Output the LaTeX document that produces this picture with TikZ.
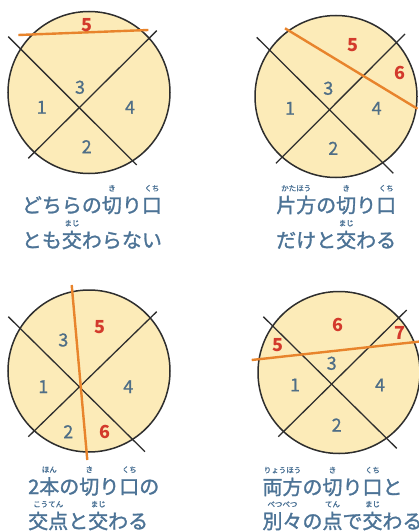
\documentclass[tikz,border=0pt]{standalone}
\usepackage{fontspec}
\newfontfamily\jp{Noto Sans CJK JP}
\newfontfamily\jpcap{Noto Sans CJK JP}[FakeBold=1.4]
\newfontfamily\jpnum{Noto Sans CJK JP}[FakeBold=0.8]
\definecolor{cake}{HTML}{FCEBB8}
\definecolor{cut}{HTML}{2E2E2E}
\definecolor{newcut}{HTML}{E8842C}
\definecolor{numblue}{HTML}{4F6E86}
\definecolor{numred}{HTML}{D33A2C}
\definecolor{captxt}{HTML}{4C7396}
\newcommand\rb[2]{\setbox0\hbox{#1}\rlap{\raisebox{1.08em}[0pt][0pt]{\makebox[\wd0]{\fontsize{7.5}{7.5}\selectfont #2}}}\box0}
\tikzset{
  cakebody/.style={fill=cake,draw=cut,line width=1.5pt},
  knife/.style={draw=cut,line width=1.3pt},
  newknife/.style={draw=newcut,line width=2.4pt},
  piece/.style={font=\jpnum\fontsize{18}{18}\selectfont,text=numblue,inner sep=0pt},
  newpiece/.style={font=\jp\bfseries\fontsize{18}{18}\selectfont,text=numred,inner sep=0pt},
  caption/.style={font=\jpcap\fontsize{20}{20}\selectfont,text=captxt,anchor=base west,inner sep=0pt}
}
\begin{document}
\begin{tikzpicture}[x=1pt,y=-1pt]
\useasboundingbox[fill=white] (0,0) rectangle (418,532);
% ---------- panel 1 ----------
\coordinate (c1) at (89,92.5);
\fill[cake] (c1) circle (81);
\coordinate (a1s) at (8.3,36.7); \coordinate (a1e) at (136.7,165);
\coordinate (b1s) at (156.7,30.7); \coordinate (b1e) at (28.3,158.3);
\draw[knife] (a1s) -- (a1e);
\draw[knife] (b1s) -- (b1e);
\draw[cakebody,fill=none] (c1) circle (81);
\coordinate (o1s) at (18.3,35); \coordinate (o1e) at (148.3,30);
\draw[newknife] (o1s) -- (o1e);
\node[newpiece] (p1n5) at (86.7,25) {5};
\node[piece] (p1n3) at (80,87.3) {3};
\node[piece] (p1n1) at (41.7,107.3) {1};
\node[piece] (p1n4) at (130,107.3) {4};
\node[piece] (p1n2) at (86.7,146.7) {2};
\node[caption] (t1a) at (21.7,212.6) {どちらの\rb{切}{き}り\rb{口}{くち}};
\node[caption] (t1b) at (21.7,247.6) {とも\rb{交}{まじ}わらない};
% ---------- panel 2 ----------
\coordinate (c2) at (336,96.5);
\fill[cake] (c2) circle (81);
\coordinate (a2s) at (256.7,37.3); \coordinate (a2e) at (393.3,173.3);
\coordinate (b2s) at (405,34); \coordinate (b2e) at (276,163.3);
\draw[knife] (a2s) -- (a2e);
\draw[knife] (b2s) -- (b2e);
\draw[cakebody,fill=none] (c2) circle (81);
\coordinate (o2s) at (285,28.3); \coordinate (o2e) at (417.5,108.8);
\draw[newknife] (o2s) -- (o2e);
\node[newpiece] (p2n5) at (353.3,45) {5};
\node[newpiece] (p2n6) at (400,73.3) {6};
\node[piece] (p2n3) at (328.3,88.3) {3};
\node[piece] (p2n1) at (290,108.3) {1};
\node[piece] (p2n4) at (376.7,108.3) {4};
\node[piece] (p2n2) at (333.3,148.3) {2};
\node[caption] (t2a) at (276,212.6) {\rb{片方}{かたほう}の\rb{切}{き}り\rb{口}{くち}};
\node[caption] (t2b) at (276,247.6) {だけと\rb{交}{まじ}わる};
% ---------- panel 3 ----------
\coordinate (c3) at (89,371);
\fill[cake] (c3) circle (81);
\coordinate (a3s) at (8.3,316.7); \coordinate (a3e) at (145,451.7);
\coordinate (b3s) at (156.7,311.7); \coordinate (b3e) at (28.3,436.7);
\draw[knife] (a3s) -- (a3e);
\draw[knife] (b3s) -- (b3e);
\draw[cakebody,fill=none] (c3) circle (81);
\coordinate (o3s) at (71.7,285); \coordinate (o3e) at (87.3,460);
\draw[newknife] (o3s) -- (o3e);
\node[newpiece] (p3n5) at (100,326.7) {5};
\node[newpiece] (p3n6) at (105,431.7) {6};
\node[piece] (p3n3) at (63.3,340) {3};
\node[piece] (p3n1) at (43.3,386.7) {1};
\node[piece] (p3n4) at (128.3,386.7) {4};
\node[piece] (p3n2) at (68.3,431.7) {2};
\node[caption] (t3a) at (28,494) {2\rb{本}{ほん}の\rb{切}{き}り\rb{口}{くち}の};
\node[caption] (t3b) at (28,528.6) {\rb{交点}{こうてん}と\rb{交}{まじ}わる};
% ---------- panel 4 ----------
\coordinate (c4) at (339,372.5);
\fill[cake] (c4) circle (81);
\coordinate (a4s) at (263.3,316.7); \coordinate (a4e) at (396.7,448.3);
\coordinate (b4s) at (406.7,310); \coordinate (b4e) at (278.3,436.7);
\draw[knife] (a4s) -- (a4e);
\draw[knife] (b4s) -- (b4e);
\draw[cakebody,fill=none] (c4) circle (81);
\coordinate (o4s) at (251.7,360); \coordinate (o4e) at (420,341.5);
\draw[newknife] (o4s) -- (o4e);
\node[newpiece] (p4n5) at (278.3,345) {5};
\node[newpiece] (p4n6) at (338.3,325) {6};
\node[newpiece] (p4n7) at (400,333.3) {7};
\node[piece] (p4n3) at (331.7,363.3) {3};
\node[piece] (p4n1) at (295,385) {1};
\node[piece] (p4n4) at (380,385) {4};
\node[piece] (p4n2) at (336.7,425) {2};
\node[caption] (t4a) at (262.3,494.5) {\rb{両方}{りょうほう}の\rb{切}{き}り\rb{口}{くち}と};
\node[caption] (t4b) at (262.3,528.6) {\rb{別々}{べつべつ}の\rb{点}{てん}で\rb{交}{まじ}わる};
\end{tikzpicture}
\end{document}
